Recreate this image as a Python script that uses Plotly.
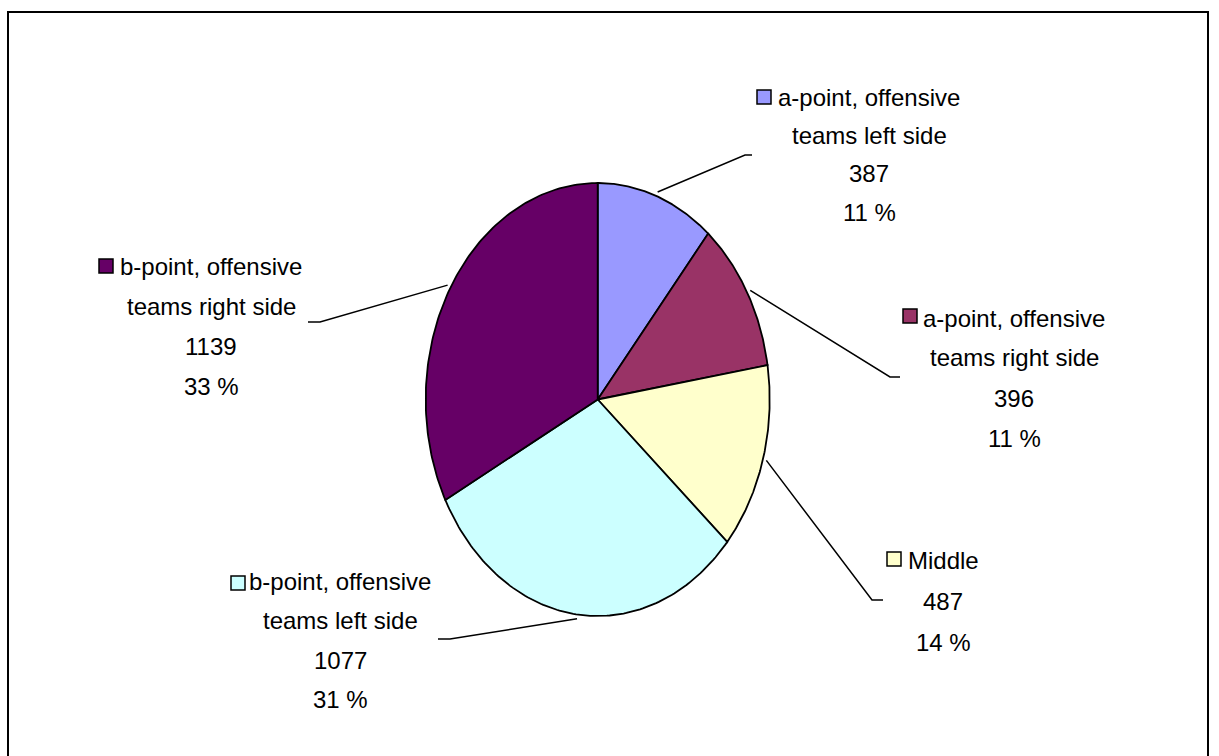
import numpy as np
import plotly.graph_objects as go

# ---- data ----
categories = [
    "a-point, offensive<br>teams left side",
    "a-point, offensive<br>teams right side",
    "Middle",
    "b-point, offensive<br>teams left side",
    "b-point, offensive<br>teams right side",
]
values = [387, 396, 487, 1077, 1139]
colors = ["#9999FF", "#993366", "#FFFFCC", "#CCFFFF", "#660066"]

# ---- layout geometry (pixels) ----
W, H = 1219, 756
CX, CY, RX, RY = 597.7, 399.5, 172.0, 216.5

# label placement: text centre x, first line y, line step, key square (x0, y0), elbow, end
label_pos = [
    dict(tx=869, ty=97, step=38.5, sq=(757, 90), elbow=(745, 155), end=(752, 155)),
    dict(tx=1014, ty=318, step=40, sq=(903, 309), elbow=(890, 377), end=(900, 377)),
    dict(tx=943, ty=560, step=41, sq=(887, 552), elbow=(872, 600), end=(883, 600)),
    dict(tx=340, ty=581, step=39.5, sq=(231, 576), elbow=(450, 639), end=(438, 639)),
    dict(tx=211, ty=266, step=40, sq=(99, 259), elbow=(320, 322), end=(308, 322)),
]
SQ = 14
FONT = "Liberation Sans Narrow, Arial Narrow, Liberation Sans, Arial, sans-serif"
FS = 24


def px2u(px, py):
    return (px - CX) / RX, (CY - py) / RY


total = sum(values)
fracs = np.array(values, dtype=float) / total
ends = np.cumsum(fracs) * 2 * np.pi
starts = ends - fracs * 2 * np.pi

fig = go.Figure()

for name, v, c, a0, a1 in zip(categories, values, colors, starts, ends):
    t = np.linspace(a0, a1, 120)
    xs = np.concatenate([[0], np.sin(t), [0]])
    ys = np.concatenate([[0], np.cos(t), [0]])
    fig.add_trace(go.Scatter(
        x=xs, y=ys, mode="lines", fill="toself", fillcolor=c,
        line=dict(color="black", width=1.8),
        name=name.replace("<br>", " "), hoverinfo="name", showlegend=False,
    ))

annotations = []
shapes = []
for name, v, c, a0, a1, lp in zip(categories, values, colors, starts, ends, label_pos):
    mid = (a0 + a1) / 2
    sx, sy = 1.02 * np.sin(mid), 1.02 * np.cos(mid)
    ex, ey = px2u(*lp["elbow"])
    fx, fy = px2u(*lp["end"])
    fig.add_trace(go.Scatter(
        x=[sx, ex, fx], y=[sy, ey, fy], mode="lines",
        line=dict(color="black", width=1.5), hoverinfo="skip", showlegend=False,
    ))
    pct = round(v / total * 100)
    lines = name.split("<br>") + [str(v), f"{pct} %"]
    for i, txt in enumerate(lines):
        annotations.append(dict(
            x=lp["tx"] / W, y=1 - (lp["ty"] + i * lp["step"]) / H,
            xref="paper", yref="paper", text=txt, showarrow=False,
            xanchor="center", yanchor="middle",
            font=dict(family=FONT, size=FS, color="black"),
        ))
    x0, y0 = lp["sq"]
    shapes.append(dict(
        type="rect", xref="paper", yref="paper",
        x0=x0 / W, x1=(x0 + SQ) / W, y0=1 - (y0 + SQ) / H, y1=1 - y0 / H,
        fillcolor=c, line=dict(color="black", width=1.5),
    ))

# outer chart border
shapes.append(dict(
    type="rect", xref="paper", yref="paper",
    x0=8 / W, x1=1208 / W, y0=-0.02, y1=1 - 12 / H,
    line=dict(color="black", width=2), fillcolor="rgba(0,0,0,0)",
))

fig.update_layout(
    width=W, height=H,
    margin=dict(l=0, r=0, t=0, b=0),
    paper_bgcolor="white", plot_bgcolor="white",
    xaxis=dict(range=[(0 - CX) / RX, (W - CX) / RX], visible=False, fixedrange=True),
    yaxis=dict(range=[(CY - H) / RY, CY / RY], visible=False, fixedrange=True),
    annotations=annotations, shapes=shapes, showlegend=False,
)

fig.write_html(
    "out.html",
    config={"displayModeBar": False},
    post_script="document.body.style.margin='0';document.body.style.overflow='hidden';",
)
